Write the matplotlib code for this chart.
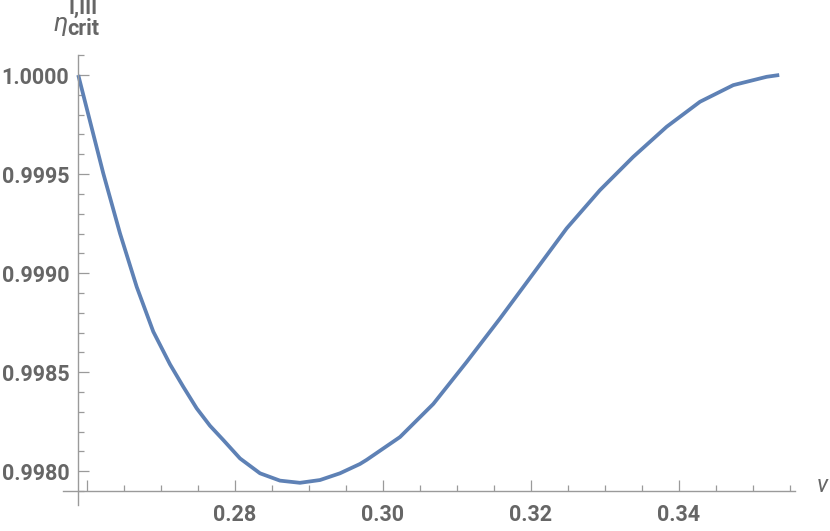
import matplotlib.pyplot as plt
from matplotlib.ticker import MultipleLocator, FixedLocator

# values
v = [0.25882, 0.26220, 0.26446, 0.26672, 0.26896, 0.27122, 0.27301, 0.27482,
     0.27662, 0.27842, 0.28068, 0.28338, 0.28608, 0.28878, 0.29149, 0.29419,
     0.29689, 0.29780, 0.30230, 0.30680, 0.31131, 0.31581, 0.32031, 0.32482,
     0.32932, 0.33382, 0.33834, 0.34284, 0.34734, 0.35185, 0.35355]
eta = [1.000000, 0.999504, 0.999201, 0.998931, 0.998705, 0.998540, 0.998427, 0.998318,
       0.998230, 0.998158, 0.998065, 0.997990, 0.997953, 0.997942, 0.997956, 0.997990,
       0.998037, 0.998058, 0.998173, 0.998340, 0.998552, 0.998771, 0.998998, 0.999226,
       0.999419, 0.999587, 0.999739, 0.999865, 0.999949, 0.999991, 1.000000]

x_major = [0.26, 0.28, 0.30, 0.32, 0.34]
x_labels = ['', '0.28', '0.30', '0.32', '0.34']
y_major = [0.9980, 0.9985, 0.9990, 0.9995, 1.0000]
y_labels = ['0.9980', '0.9985', '0.9990', '0.9995', '1.0000']

W, H = 830, 531
fig = plt.figure(figsize=(W / 100, H / 100), dpi=100)
# axes box in pixels: left 63, right 795, top 55, bottom 505
ax = fig.add_axes([63 / W, (H - 505) / H, (795 - 63) / W, (505 - 55) / H])

ax.plot(v, eta, color='#5E81B5', lw=2.7, solid_capstyle='butt',
        solid_joinstyle='round')

ax.set_xlim(0.25676, 0.35568)
ax.set_ylim(0.997830, 1.000101)

axis_col = '#9a9a9a'
lab_col = '#666666'
for s in ['top', 'right']:
    ax.spines[s].set_visible(False)
ax.spines['left'].set_position(('data', 0.25874))
ax.spines['bottom'].set_position(('data', 0.99790))
for s in ['left', 'bottom']:
    ax.spines[s].set_color(axis_col)
    ax.spines[s].set_linewidth(1.0)

ax.xaxis.set_major_locator(FixedLocator(x_major))
ax.set_xticklabels(x_labels)
ax.xaxis.set_minor_locator(MultipleLocator(0.005))
ax.yaxis.set_major_locator(FixedLocator(y_major))
ax.set_yticklabels(y_labels)
ax.yaxis.set_minor_locator(MultipleLocator(0.0001))

ax.tick_params(which='both', direction='in', color=axis_col, width=0.9)
ax.tick_params(which='major', length=8)
ax.tick_params(which='minor', length=4.5)
ax.tick_params(axis='x', which='major', pad=9)
ax.tick_params(axis='y', which='major', pad=6)
for lab in ax.get_xticklabels() + ax.get_yticklabels():
    lab.set_fontfamily('Roboto')
    lab.set_fontweight('bold')
    lab.set_fontsize(15.5)
    lab.set_color(lab_col)

# axis labels
fig.text(817 / W, 1 - 492 / H, 'v', family='Roboto', style='italic',
         fontsize=17, color=lab_col, ha='left', va='baseline')
fig.text(54 / W, 1 - 31 / H, 'η', family='Roboto', style='italic',
         fontsize=19, color=lab_col, ha='left', va='baseline')
fig.text(67 / W, 1 - 35 / H, 'crit', family='Roboto', weight='bold',
         fontsize=15.5, color=lab_col, ha='left', va='baseline')
fig.text(68 / W, 1 - 14 / H, 'I,III', family='Roboto', weight='bold',
         fontsize=15, color=lab_col, ha='left', va='baseline')

fig.savefig('out.png', dpi=100)
